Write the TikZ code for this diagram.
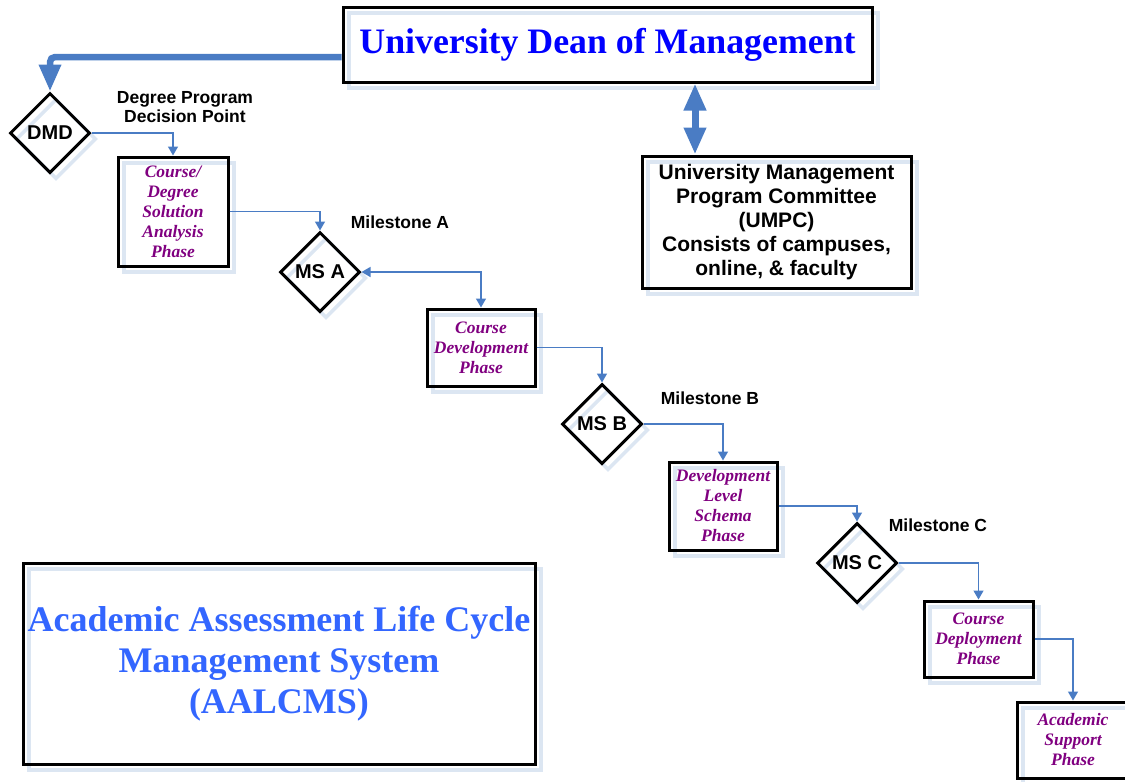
\documentclass[tikz,border=0pt]{standalone}
\usepackage{fontspec}
\setmainfont{Liberation Serif}
\setsansfont{Liberation Sans}
\usepackage{tikz}
\usetikzlibrary{positioning}
\usetikzlibrary{shapes.geometric}
\usetikzlibrary{shadows}
\usetikzlibrary{arrows.meta}
\definecolor{linkblue}{HTML}{4A7CC4}
\definecolor{ghostblue}{HTML}{DCE6F2}
\definecolor{titleblue}{HTML}{0000FF}
\definecolor{systemblue}{HTML}{3366FF}
\definecolor{phasepurple}{HTML}{800080}
\tikzset{
	ghost/.style={
		general shadow={draw=ghostblue, line width=3.5pt, shadow xshift=6pt, shadow yshift=-6pt}
	},
	frame/.style={
		draw, line width=3pt, inner sep=0pt, align=center, ghost
	},
	phase/.style={
		frame, text=phasepurple, font=\fontsize{17.5}{20}\selectfont\bfseries\itshape
	},
	milestone/.style={
		diamond, aspect=1, draw, line width=3pt, inner sep=0pt, minimum size=80pt, ghost,
		font=\fontsize{20}{24}\selectfont\sffamily\bfseries
	},
	caption/.style={
		align=center, font=\fontsize{17.5}{19}\selectfont\sffamily\bfseries
	},
	link/.style={
		draw=linkblue, line width=1.4pt, -{Triangle[length=9pt,width=10pt]}
	},
	two way link/.style={
		draw=linkblue, line width=1.4pt, {Triangle[length=9pt,width=10pt]}-{Triangle[length=9pt,width=10pt]}
	},
	big link/.style={
		draw=linkblue, line width=6.5pt, rounded corners=5pt, -{Triangle[length=27pt,width=21pt]}
	},
	big two way link/.style={
		draw=linkblue, line width=7pt, {Triangle[length=27pt,width=21pt]}-{Triangle[length=27pt,width=21pt]}
	}
}

\begin{document}
\begin{tikzpicture}[x=1pt, y=-1pt]
	\useasboundingbox (0,0) rectangle (1125,782);

	% management
	\node[frame, minimum width=529pt, minimum height=75pt, text=titleblue,
		font=\fontsize{35.8}{40}\selectfont\bfseries] (Dean) at (607.5,44.5) {University Dean of Management};
	\node[frame, minimum width=269pt, minimum height=132pt,
		font=\fontsize{21}{24}\selectfont\sffamily\bfseries] (UMPC) at (776.5,222)
		{University Management\\Program Committee\\(UMPC)\\Consists of campuses,\\online, \& faculty};
	\node[frame, minimum width=512pt, minimum height=201pt, text=systemblue,
		font=\fontsize{36}{41}\selectfont\bfseries] (AALCMS) at (279,663.5)
		{Academic Assessment Life Cycle\\Management System\\(AALCMS)};

	% decision points
	\node[milestone] (DMD) at (50,133) {DMD};
	\node[milestone] (MS-A) at (320,272) {MS A};
	\node[milestone] (MS-B) at (602,424) {MS B};
	\node[milestone] (MS-C) at (857,563) {MS C};
	\node[caption] (DMD-label) at (185,107) {Degree Program\\Decision Point};
	\node[caption] (MS-A-label) at (400,222) {Milestone A};
	\node[caption] (MS-B-label) at (710,398) {Milestone B};
	\node[caption] (MS-C-label) at (938,525) {Milestone C};

	% phases
	\node[phase, minimum width=110pt, minimum height=109pt] (Solution) at (173,211.5)
		{Course/\\Degree\\Solution\\Analysis\\Phase};
	\node[phase, minimum width=108pt, minimum height=77pt] (Development) at (481,347.5)
		{Course\\Development\\Phase};
	\node[phase, minimum width=108pt, minimum height=88pt] (Schema) at (723,506)
		{Development\\Level\\Schema\\Phase};
	\node[phase, minimum width=109pt, minimum height=76pt] (Deployment) at (978.5,639)
		{Course\\Deployment\\Phase};
	\node[phase, minimum width=112pt, minimum height=76pt] (Support) at (1073,740)
		{Academic\\Support\\Phase};

	\draw[big link] ([yshift=-12.5pt]Dean.west) -| (DMD.north);
	\coordinate (Dean-UMPC) at ([xshift=87.5pt]Dean.south);
	\draw[big two way link] (Dean-UMPC) -- (Dean-UMPC |- UMPC.north);

	\foreach \from/\to in {DMD/Solution, Solution/MS-A, Development/MS-B, MS-B/Schema,
		Schema/MS-C, MS-C/Deployment, Deployment/Support}
		\draw[link] (\from.east) -| (\to.north);
	\draw[two way link] (MS-A.east) -| (Development.north);
\end{tikzpicture}
\end{document}
